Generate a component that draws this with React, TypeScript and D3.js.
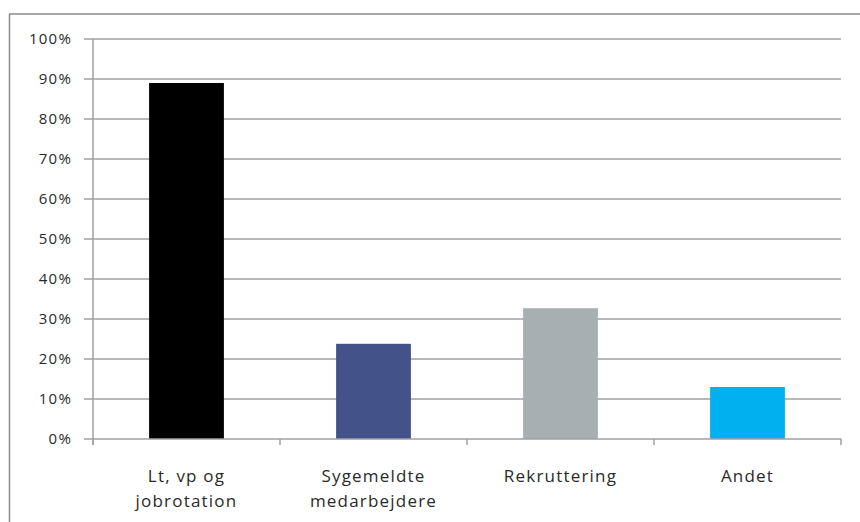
import React from "react";
import * as d3 from "d3";

const categories: string[][] = [
  ["Lt, vp og", "jobrotation"],
  ["Sygemeldte", "medarbejdere"],
  ["Rekruttering"],
  ["Andet"],
];
const values: number[] = [0.89, 0.238, 0.327, 0.13];
const colors: string[] = ["#000000", "#43538A", "#A8AFB2", "#00B0EF"];
const yTicks: number[] = [0, 0.1, 0.2, 0.3, 0.4, 0.5, 0.6, 0.7, 0.8, 0.9, 1.0];

const W = 860;
const H = 522;
const left = 93;
const right = 841;
const top = 39;
const bottom = 439;

export default function App() {
  const x = d3
    .scaleBand<number>()
    .domain(categories.map((_, i) => i))
    .range([left, right])
    .paddingInner(0.6)
    .paddingOuter(0.3);
  const y = d3.scaleLinear().domain([0, 1]).range([bottom, top]);
  const step = (right - left) / categories.length;
  const fmt = d3.format(".0%");
  const font = "'Open Sans', sans-serif";
  const textColor = "#2a2a2a";
  const gridColor = "#a0a0a0";

  return (
    <svg
      width={W}
      height={H}
      style={{ position: "absolute", left: 0, top: 0, background: "#fff" }}
    >
      <rect x={9.5} y={14} width={W + 20} height={H + 20} fill="#fff" stroke="#8c8c8c" strokeWidth={1.5} />
      {yTicks.map((t) => (
        <g key={t}>
          {t > 0 && (
            <line x1={left} x2={right} y1={y(t)} y2={y(t)} stroke={gridColor} strokeWidth={1.5} />
          )}
          <line x1={left - 9} x2={left} y1={y(t)} y2={y(t)} stroke={gridColor} strokeWidth={1.5} />
          <text
            x={72}
            y={y(t)}
            dy="0.35em"
            textAnchor="end"
            fontFamily={font}
            fontSize={15}
            letterSpacing={1.2}
            fill={textColor}
          >
            {fmt(t)}
          </text>
        </g>
      ))}
      {values.map((v, i) => (
        <rect
          key={i}
          x={x(i)}
          y={y(v)}
          width={x.bandwidth()}
          height={bottom - y(v)}
          fill={colors[i]}
        />
      ))}
      <line x1={left} x2={left} y1={top} y2={bottom + 6} stroke={gridColor} strokeWidth={1.5} />
      <line x1={left} x2={right} y1={bottom} y2={bottom} stroke={gridColor} strokeWidth={1.5} />
      {d3.range(categories.length + 1).map((i) => (
        <line
          key={i}
          x1={left + i * step}
          x2={left + i * step}
          y1={bottom}
          y2={bottom + 6}
          stroke={gridColor}
          strokeWidth={1.5}
        />
      ))}
      {categories.map((lines, i) => (
        <text
          key={i}
          textAnchor="middle"
          fontFamily={font}
          fontSize={17}
          letterSpacing={1.2}
          fill={textColor}
        >
          {lines.map((l, j) => (
            <tspan key={j} x={left + (i + 0.5) * step} y={482 + j * 25}>
              {l}
            </tspan>
          ))}
        </text>
      ))}
    </svg>
  );
}
